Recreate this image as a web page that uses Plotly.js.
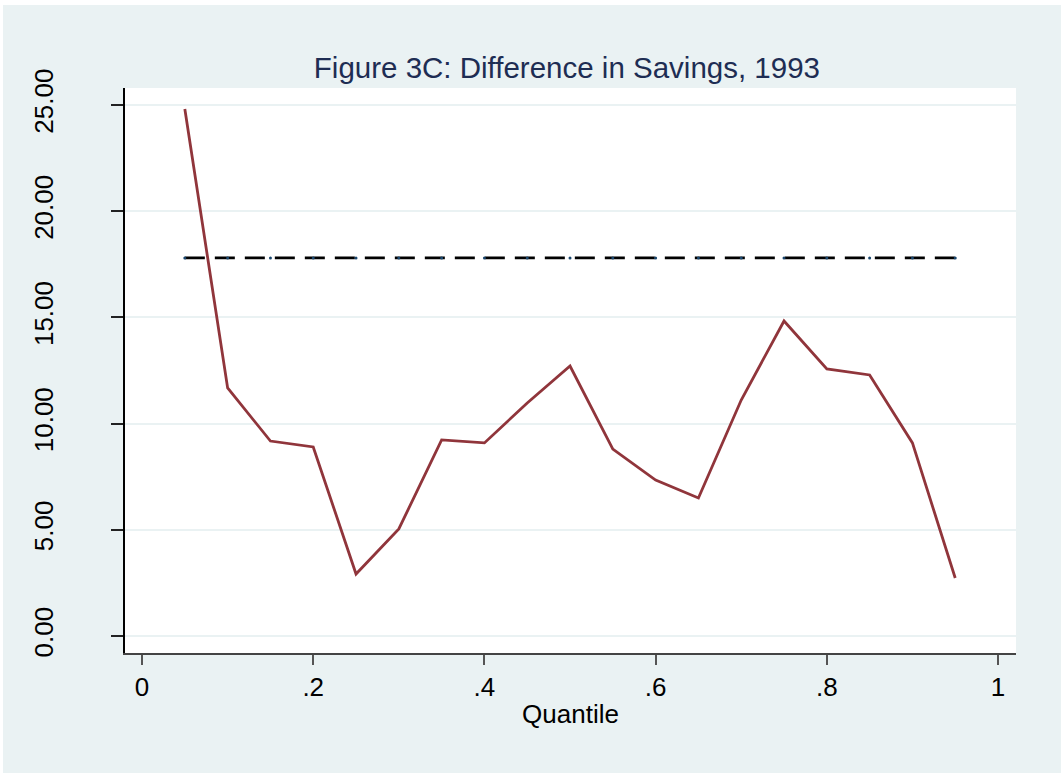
<!DOCTYPE html>
<html>
<head>
<meta charset="utf-8">
<script src="https://cdn.plot.ly/plotly-3.0.1.min.js"></script>
<style>
  html, body { margin: 0; padding: 0; background: #ffffff; }
  #chart { position: absolute; left: 3px; top: 5px; width: 1058px; height: 768px; }
</style>
</head>
<body>
<div id="chart"></div>
<script>
// Figure 3C: difference in savings by quantile, 1993
var quantiles = [0.05, 0.10, 0.15, 0.20, 0.25, 0.30, 0.35, 0.40, 0.45, 0.50,
                 0.55, 0.60, 0.65, 0.70, 0.75, 0.80, 0.85, 0.90, 0.95];
var difference = [24.81, 11.68, 9.18, 8.90, 2.92, 5.04, 9.23, 9.09, 10.97, 12.71,
                  8.80, 7.34, 6.50, 11.11, 14.83, 12.57, 12.29, 9.09, 2.73];
var meanDiff = quantiles.map(q => 17.80);

var xTicks = [0, 0.2, 0.4, 0.6, 0.8, 1];
var xTickText = ["0", ".2", ".4", ".6", ".8", "1"];
var yTicks = [0, 5, 10, 15, 20, 25];
var yTickText = ["0.00", "5.00", "10.00", "15.00", "20.00", "25.00"];

var traceMean = {
    x: quantiles,
    y: meanDiff,
    mode: "lines+markers",
    line: {color: "#000000", width: 2.6, dash: "20px,10px"},
    marker: {color: "#1a476f", size: 3},
    showlegend: false,
    hoverinfo: "skip"
};

var traceDiff = {
    x: quantiles,
    y: difference,
    mode: "lines",
    line: {color: "#90353b", width: 2.8},
    showlegend: false
};

var layout = {
    width: 1058,
    height: 768,
    paper_bgcolor: "#eaf2f3",
    plot_bgcolor: "#ffffff",
    margin: {l: 122, r: 45, t: 83, b: 120},
    font: {family: "Liberation Sans, Arial, sans-serif", color: "#000000"},
    title: {
        text: "Figure 3C: Difference in Savings, 1993",
        font: {size: 29.5, color: "#1e2d53"},
        x: 0.533, xanchor: "center",
        y: 0.918, yanchor: "middle"
    },
    xaxis: {
        range: [-0.0199, 1.021],
        tickvals: xTicks,
        ticktext: xTickText,
        ticks: "outside",
        ticklen: 10,
        tickwidth: 2,
        tickcolor: "#555555",
        tickfont: {size: 26},
        showgrid: false,
        zeroline: false,
        showline: true,
        linecolor: "#444444",
        linewidth: 2,
        title: {text: "Quantile", font: {size: 26}, standoff: 4}
    },
    yaxis: {
        range: [-0.8, 25.8],
        tickvals: yTicks,
        ticktext: yTickText,
        tickangle: -90,
        ticks: "outside",
        ticklen: 12,
        tickwidth: 2,
        tickcolor: "#222222",
        tickfont: {size: 26},
        ticklabelstandoff: 48,
        showgrid: true,
        gridcolor: "#eaf2f3",
        gridwidth: 2,
        zeroline: false,
        showline: true,
        linecolor: "#000000",
        linewidth: 2
    }
};

Plotly.newPlot("chart", [traceMean, traceDiff], layout, {displayModeBar: false});
</script>
</body>
</html>
